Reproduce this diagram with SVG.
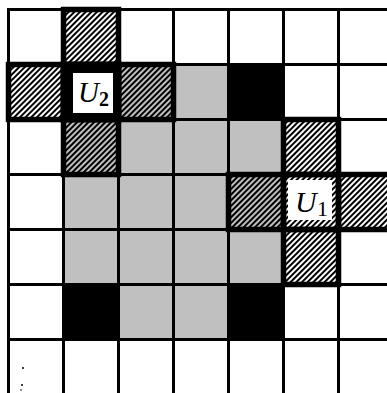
<svg xmlns="http://www.w3.org/2000/svg" width="387" height="393" viewBox="0 0 387 393">
<defs>
<pattern id="hatch" width="4" height="4" patternUnits="userSpaceOnUse" patternTransform="rotate(45)">
<rect x="0" y="0" width="2" height="4" fill="#000"/>
</pattern>
<style>
.grey{fill:#c0c0c0}
.black{fill:#000}
.wh{fill:#fff}
.hatch{fill:url(#hatch)}
.grid line{stroke:#000;stroke-width:3;stroke-linecap:square}
.thick{fill:none;stroke:#000;stroke-width:5.5}
.lbl{font-family:"Liberation Serif","Times New Roman",serif;fill:#000}
</style>
</defs>
<rect x="0" y="0" width="387" height="393" fill="#fff"/>
<g id="fills">
<rect class="grey" x="173.5" y="64.5" width="55" height="55"/>
<rect class="black" x="228.5" y="64.5" width="55" height="55"/>
<rect class="grey" x="118.5" y="119.5" width="165" height="55"/>
<rect class="grey" x="63.5" y="174.5" width="165" height="55"/>
<rect class="grey" x="63.5" y="229.5" width="220" height="55"/>
<rect class="black" x="63.5" y="284.5" width="55" height="55"/>
<rect class="grey" x="118.5" y="284.5" width="110" height="55"/>
<rect class="black" x="228.5" y="284.5" width="55" height="55"/>
</g>
<g id="hatched">
<rect class="hatch" x="63.5" y="9.5" width="55" height="55"/>
<rect class="hatch" x="8.5" y="64.5" width="55" height="55"/>
<rect class="grey" x="118.5" y="64.5" width="55" height="55"/>
<rect class="hatch" x="118.5" y="64.5" width="55" height="55"/>
<rect class="grey" x="63.5" y="119.5" width="55" height="55"/>
<rect class="hatch" x="63.5" y="119.5" width="55" height="55"/>
<rect class="hatch" x="283.5" y="119.5" width="55" height="55"/>
<rect class="grey" x="228.5" y="174.5" width="55" height="55"/>
<rect class="hatch" x="228.5" y="174.5" width="55" height="55"/>
<rect class="hatch" x="283.5" y="174.5" width="55" height="55"/>
<rect class="hatch" x="338.5" y="174.5" width="55" height="55"/>
<rect class="hatch" x="283.5" y="229.5" width="55" height="55"/>
</g>
<g class="grid" id="grid">
<line x1="8.5" y1="9.5" x2="8.5" y2="395"/>
<line x1="63.5" y1="9.5" x2="63.5" y2="395"/>
<line x1="118.5" y1="9.5" x2="118.5" y2="395"/>
<line x1="173.5" y1="9.5" x2="173.5" y2="395"/>
<line x1="228.5" y1="9.5" x2="228.5" y2="395"/>
<line x1="283.5" y1="9.5" x2="283.5" y2="395"/>
<line x1="338.5" y1="9.5" x2="338.5" y2="395"/>
<line x1="8.5" y1="9.5" x2="390" y2="9.5"/>
<line x1="8.5" y1="64.5" x2="390" y2="64.5"/>
<line x1="8.5" y1="119.5" x2="390" y2="119.5"/>
<line x1="8.5" y1="174.5" x2="390" y2="174.5"/>
<line x1="8.5" y1="229.5" x2="390" y2="229.5"/>
<line x1="8.5" y1="284.5" x2="390" y2="284.5"/>
<line x1="8.5" y1="339.5" x2="390" y2="339.5"/>
</g>
<g id="borders">
<rect class="thick" x="63.5" y="9.5" width="55" height="55"/>
<rect class="thick" x="8.5" y="64.5" width="55" height="55"/>
<rect class="thick" x="118.5" y="64.5" width="55" height="55"/>
<rect class="thick" x="63.5" y="119.5" width="55" height="55"/>
<rect class="thick" x="283.5" y="119.5" width="55" height="55"/>
<rect class="thick" x="228.5" y="174.5" width="55" height="55"/>
<rect class="thick" x="283.5" y="174.5" width="55" height="55"/>
<rect class="thick" x="338.5" y="174.5" width="55" height="55"/>
<rect class="thick" x="283.5" y="229.5" width="55" height="55"/>
</g>
<g id="U2">
<rect class="black" x="60.5" y="61.5" width="61" height="61"/>
<rect class="wh" x="73" y="73" width="40" height="40"/>
<text class="lbl" x="78" y="102" font-size="29" font-style="italic">U</text>
<text class="lbl" x="99" y="106" font-size="20" font-weight="bold">2</text>
</g>
<g id="U1">
<rect class="wh" x="288" y="180" width="44" height="40"/>
<text class="lbl" x="295" y="212" font-size="30" font-style="italic">U</text>
<text class="lbl" x="317" y="216" font-size="22">1</text>
</g>
<g id="marks">
<circle cx="23" cy="368" r="1"/>
<circle cx="22" cy="385" r="1"/>
<circle cx="21" cy="390" r="0.8"/>
</g>
</svg>
